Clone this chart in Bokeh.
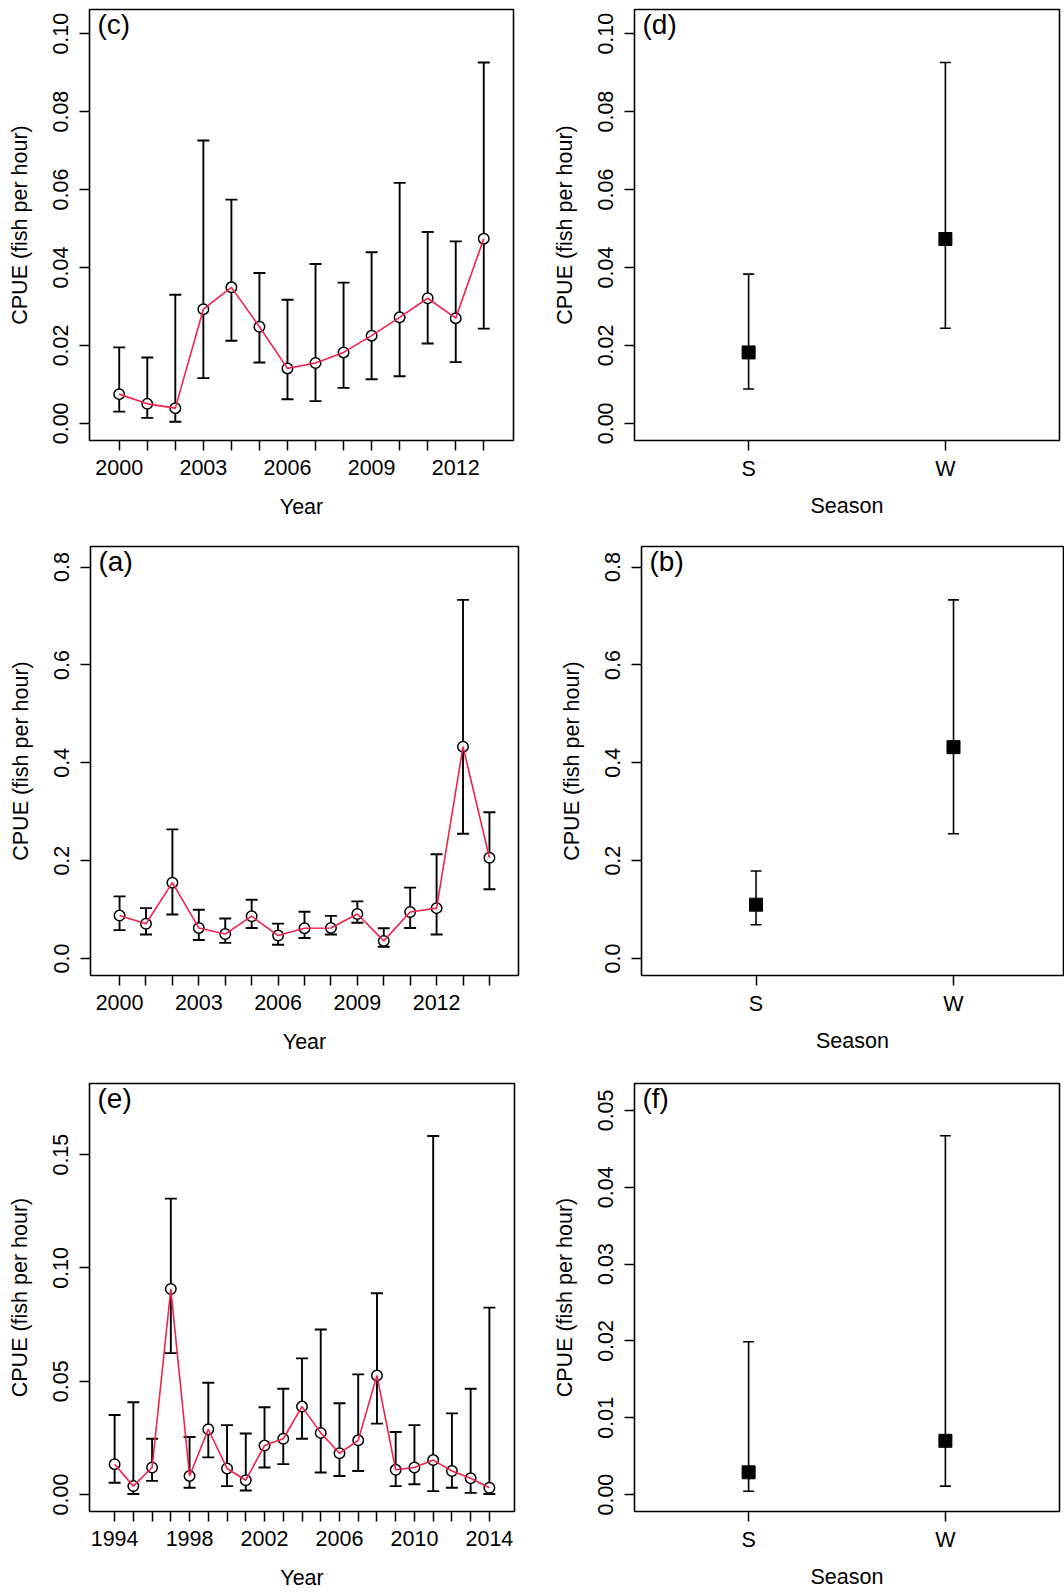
from bokeh.plotting import figure
from bokeh.models import (ColumnDataSource, Whisker, TeeHead, FixedTicker,
                          PrintfTickFormatter, Range1d, Label)
from bokeh.layouts import column, row
from bokeh.embed import file_html
from bokeh.resources import INLINE

# ---------------------------------------------------------------- data
# (c) annual CPUE, 2000-2013
years_c = [2000, 2001, 2002, 2003, 2004, 2005, 2006, 2007, 2008, 2009, 2010, 2011, 2012, 2013]
cpue_c = [0.0075, 0.0050, 0.0039, 0.0293, 0.0349, 0.0248, 0.0141, 0.0155, 0.0182, 0.0225, 0.0272, 0.0321, 0.0270, 0.0474]
lo_c = [0.0030, 0.0014, 0.0004, 0.0116, 0.0212, 0.0156, 0.0062, 0.0057, 0.0091, 0.0113, 0.0121, 0.0205, 0.0157, 0.0243]
hi_c = [0.0195, 0.0169, 0.0330, 0.0726, 0.0574, 0.0386, 0.0317, 0.0409, 0.0361, 0.0439, 0.0617, 0.0491, 0.0467, 0.0926]

# (d) seasonal CPUE
season_d = [1, 2]
cpue_d = [0.0182, 0.0473]
lo_d = [0.0088, 0.0244]
hi_d = [0.0383, 0.0926]

# (a) annual CPUE, 2000-2014
years_a = [2000, 2001, 2002, 2003, 2004, 2005, 2006, 2007, 2008, 2009, 2010, 2011, 2012, 2013, 2014]
cpue_a = [0.088, 0.071, 0.155, 0.0625, 0.050, 0.0865, 0.047, 0.062, 0.0625, 0.091, 0.036, 0.095, 0.103, 0.433, 0.206]
lo_a = [0.058, 0.049, 0.090, 0.038, 0.032, 0.0625, 0.028, 0.042, 0.049, 0.073, 0.024, 0.0625, 0.049, 0.255, 0.1415]
hi_a = [0.127, 0.103, 0.264, 0.0996, 0.0817, 0.120, 0.0714, 0.0955, 0.0872, 0.1167, 0.0618, 0.145, 0.213, 0.733, 0.299]

# (b) seasonal CPUE
season_b = [1, 2]
cpue_b = [0.110, 0.432]
lo_b = [0.069, 0.255]
hi_b = [0.179, 0.733]

# (e) annual CPUE, 1994-2014
years_e = [1994, 1995, 1996, 1997, 1998, 1999, 2000, 2001, 2002, 2003, 2004,
           2005, 2006, 2007, 2008, 2009, 2010, 2011, 2012, 2013, 2014]
cpue_e = [0.0134, 0.0037, 0.0119, 0.0907, 0.0082, 0.0288, 0.0115, 0.0063, 0.0216, 0.0246, 0.0388,
          0.0272, 0.0182, 0.0239, 0.0525, 0.0109, 0.0119, 0.0152, 0.0104, 0.0072, 0.0030]
lo_e = [0.0052, 0.0002, 0.0060, 0.0624, 0.0030, 0.0164, 0.0037, 0.0018, 0.0119, 0.0134, 0.0246,
        0.0097, 0.0082, 0.0104, 0.0313, 0.0037, 0.0045, 0.0015, 0.0030, 0.0007, 0.0002]
hi_e = [0.0351, 0.0407, 0.0246, 0.1306, 0.0254, 0.0493, 0.0306, 0.0269, 0.0385, 0.0467, 0.0601,
        0.0728, 0.0403, 0.0530, 0.0888, 0.0276, 0.0306, 0.1582, 0.0358, 0.0467, 0.0825]

# (f) seasonal CPUE
season_f = [1, 2]
cpue_f = [0.0029, 0.0070]
lo_f = [0.00044, 0.0011]
hi_f = [0.0199, 0.0467]

season_labels = ["S", "W"]

# y-axis ticks
yticks_cd = [0.0, 0.02, 0.04, 0.06, 0.08, 0.10]
yticks_ab = [0.0, 0.2, 0.4, 0.6, 0.8]
yticks_e = [0.0, 0.05, 0.10, 0.15]
yticks_f = [0.0, 0.01, 0.02, 0.03, 0.04, 0.05]

# labelled years on the x axes
xlab_c = [2000, 2003, 2006, 2009, 2012]
xlab_a = [2000, 2003, 2006, 2009, 2012]
xlab_e = [1994, 1998, 2002, 2006, 2010, 2014]

# ---------------------------------------------------------------- style
FONT = "Liberation Sans"
FS = "21.5px"
RED = "#F0224E"
YTITLE = "CPUE (fish per hour)"


def make_fig(width, height, borders, xr, yr, yticks, yfmt, xtitle):
    left, right, top, bottom = borders
    p = figure(width=width, height=height,
               x_range=Range1d(*xr), y_range=Range1d(*yr),
               output_backend="svg", toolbar_location=None,
               min_border=0, min_border_left=left, min_border_right=right,
               min_border_top=top, min_border_bottom=bottom)
    p.grid.visible = False
    p.background_fill_color = "white"
    p.border_fill_color = "white"
    p.outline_line_color = "black"
    p.outline_line_width = 1.6
    for ax in (p.xaxis[0], p.yaxis[0]):
        ax.axis_line_color = None
        ax.major_tick_out = 10
        ax.major_tick_in = 0
        ax.major_tick_line_width = 1.5
        ax.major_tick_line_color = "black"
        ax.minor_tick_line_color = None
        ax.major_label_text_font = FONT
        ax.major_label_text_font_size = FS
        ax.major_label_text_color = "black"
        ax.axis_label_text_font = FONT
        ax.axis_label_text_font_size = FS
        ax.axis_label_text_font_style = "normal"
        ax.axis_label_text_color = "black"
    p.yaxis.major_label_standoff = 11
    p.yaxis.axis_label_standoff = 19
    p.yaxis.major_label_orientation = "vertical"
    p.yaxis.ticker = FixedTicker(ticks=yticks)
    p.yaxis.formatter = PrintfTickFormatter(format=yfmt)
    p.yaxis.axis_label = YTITLE
    p.xaxis.axis_label = xtitle
    return p


def add_tag(p, text):
    p.add_layout(Label(x=p.x_range.start, y=p.y_range.end, x_offset=8, y_offset=1,
                       text=text, text_font=FONT, text_font_size="28px",
                       text_baseline="top", text_align="left", text_color="black"))


def year_panel(tag, years, cpue, lo, hi, labelled, width, height, borders, xr, yr, yticks, yfmt):
    p = make_fig(width, height, borders, xr, yr, yticks, yfmt, "Year")
    p.xaxis.major_label_standoff = 9
    p.xaxis.axis_label_standoff = 17
    p.xaxis.ticker = FixedTicker(ticks=years)
    p.xaxis.major_label_overrides = {y: (str(y) if y in labelled else "") for y in years}
    src = ColumnDataSource(dict(x=years, y=cpue, lo=lo, hi=hi))
    p.add_layout(Whisker(source=src, base="x", upper="hi", lower="lo",
                         line_color="black", line_width=1.9,
                         upper_head=TeeHead(size=12, line_width=1.9, line_color="black"),
                         lower_head=TeeHead(size=12, line_width=1.9, line_color="black")))
    p.scatter("x", "y", source=src, marker="circle", size=10.5,
              fill_color="white", line_color="black", line_width=1.5)
    p.line("x", "y", source=src, line_color=RED, line_width=1.6)
    add_tag(p, tag)
    return p


def season_panel(tag, seasons, cpue, lo, hi, width, height, borders, xr, yr, yticks, yfmt):
    p = make_fig(width, height, borders, xr, yr, yticks, yfmt, "Season")
    p.xaxis.major_label_standoff = 6
    p.xaxis.axis_label_standoff = 10
    p.xaxis.ticker = FixedTicker(ticks=seasons)
    p.xaxis.major_label_overrides = {s: lab for s, lab in zip(seasons, season_labels)}
    src = ColumnDataSource(dict(x=seasons, y=cpue, lo=lo, hi=hi))
    p.add_layout(Whisker(source=src, base="x", upper="hi", lower="lo",
                         line_color="black", line_width=1.6,
                         upper_head=TeeHead(size=11, line_width=1.6, line_color="black"),
                         lower_head=TeeHead(size=11, line_width=1.6, line_color="black")))
    p.scatter("x", "y", source=src, marker="square", size=13,
              fill_color="black", line_color="black")
    add_tag(p, tag)
    return p


# borders: (left, right, top, bottom)
p_c = year_panel("(c)", years_c, cpue_c, lo_c, hi_c, xlab_c, 532, 532, (89, 19, 9, 92),
                 (1998.94, 2014.06), (-0.0044, 0.1062), yticks_cd, "%.2f")
p_d = season_panel("(d)", season_d, cpue_d, lo_d, hi_d, 532, 532, (102, 5, 9, 92),
                   (0.42, 2.58), (-0.0044, 0.1062), yticks_cd, "%.2f")

p_a = year_panel("(a)", years_a, cpue_a, lo_a, hi_a, xlab_a, 532, 532, (90, 14, 14, 89),
                 (1998.9, 2015.1), (-0.0347, 0.8421), yticks_ab, "%.1f")
p_b = season_panel("(b)", season_b, cpue_b, lo_b, hi_b, 532, 532, (109, 1, 14, 89),
                   (0.42, 2.557), (-0.0347, 0.8421), yticks_ab, "%.1f")

p_e = year_panel("(e)", years_e, cpue_e, lo_e, hi_e, xlab_e, 532, 531, (89, 18, 19, 84),
                 (1992.66, 2015.34), (-0.0075, 0.1814), yticks_e, "%.2f")
p_f = season_panel("(f)", season_f, cpue_f, lo_f, hi_f, 532, 531, (102, 5, 18, 84),
                   (0.42, 2.58), (-0.0022, 0.0535), yticks_f, "%.2f")

layout = column(row(p_c, p_d), row(p_a, p_b), row(p_e, p_f))

open("out.html", "w").write(file_html(layout, INLINE))
